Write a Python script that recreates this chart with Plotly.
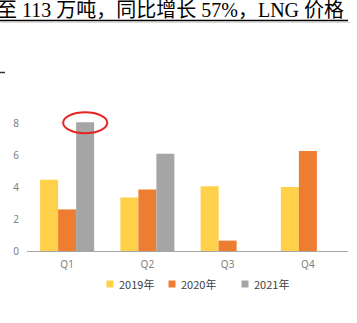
import plotly.graph_objects as go

# quarterly values by year
quarters = ["Q1", "Q2", "Q3", "Q4"]
y2019 = [4.45, 3.35, 4.05, 4.0]
y2020 = [2.6, 3.85, 0.65, 6.25]
y2021 = [8.05, 6.08, None, None]
series_names = ["2019年", "2020年", "2021年"]
series_colors = ["#FFD04A", "#ED7D31", "#A5A5A5"]
y_ticks = [0, 2, 4, 6, 8]

headline = "至 113 万吨，同比增长 57%，LNG 价格"

# plot-area geometry in pixels (used to place paper-referenced decorations)
W, H = 357, 323
ML, MR, MT, MB = 27, 9, 91, 72
PW, PH = W - ML - MR, H - MT - MB


def px_x(p):
    return (p - ML) / PW


def px_y(p):
    return (H - MB - p) / PH


fig = go.Figure()
for name, vals, col in zip(series_names, [y2019, y2020, y2021], series_colors):
    fig.add_trace(go.Bar(x=quarters, y=vals, name=name, marker_color=col,
                         marker_line_width=0))

fig.update_layout(
    width=W, height=H,
    margin=dict(l=ML, r=MR, t=MT, b=MB),
    paper_bgcolor="white", plot_bgcolor="white",
    barmode="group", bargap=0.327, bargroupgap=0,
    font=dict(family="Noto Sans, Noto Sans CJK SC", size=10, color="#7F7F7F"),
    showlegend=False,
    xaxis=dict(type="category", showline=True, linecolor="#A6A6A6", linewidth=1,
               showgrid=False, ticks="", zeroline=False, ticklabelstandoff=4,
               tickfont=dict(size=10, color="#7F7F7F")),
    yaxis=dict(range=[0, 10], tickvals=y_ticks, showgrid=False, zeroline=False,
               showline=False, ticks="", ticklabelstandoff=7,
               tickfont=dict(size=10, color="#7F7F7F")),
)

# compact legend row under the axis: square key + label per series
legend_key_px = [110, 172, 245]
legend_row_px = 284
for name, col, kx in zip(series_names, series_colors, legend_key_px):
    fig.add_shape(type="rect", xref="paper", yref="paper",
                  x0=px_x(kx - 3.5), x1=px_x(kx + 3.5),
                  y0=px_y(legend_row_px + 3.5), y1=px_y(legend_row_px - 3.5),
                  fillcolor=col, line_width=0)
    fig.add_annotation(text=name, xref="paper", yref="paper",
                       x=px_x(kx + 7), y=px_y(legend_row_px),
                       xanchor="left", yanchor="middle", showarrow=False,
                       font=dict(family="Noto Sans CJK SC", size=11, color="#404040"))

# red ellipse highlighting the Q1 2021 bar top
fig.add_shape(type="circle", xref="x", yref="y", x0=-0.05, x1=0.5, y0=7.36, y1=8.67,
              line=dict(color="#E8231F", width=2))

# headline text above the chart with its underline
fig.add_annotation(text=headline, xref="paper", yref="paper",
                   x=px_x(-5), y=px_y(10), xanchor="left", yanchor="middle",
                   showarrow=False,
                   font=dict(family="Liberation Serif, Noto Sans CJK SC", size=20,
                             color="#000000"))
fig.add_shape(type="line", xref="paper", yref="paper",
              x0=px_x(0), x1=px_x(348), y0=px_y(20.5), y1=px_y(20.5),
              line=dict(color="#000000", width=1.5))
fig.add_shape(type="line", xref="paper", yref="paper",
              x0=px_x(0), x1=px_x(351), y0=px_y(22.5), y1=px_y(22.5),
              line=dict(color="#D8D8D8", width=1))
# short dash at the left edge
fig.add_shape(type="line", xref="paper", yref="paper",
              x0=px_x(0), x1=px_x(5), y0=px_y(72.5), y1=px_y(72.5),
              line=dict(color="#333333", width=1.5))

fig.write_html("out.html")
